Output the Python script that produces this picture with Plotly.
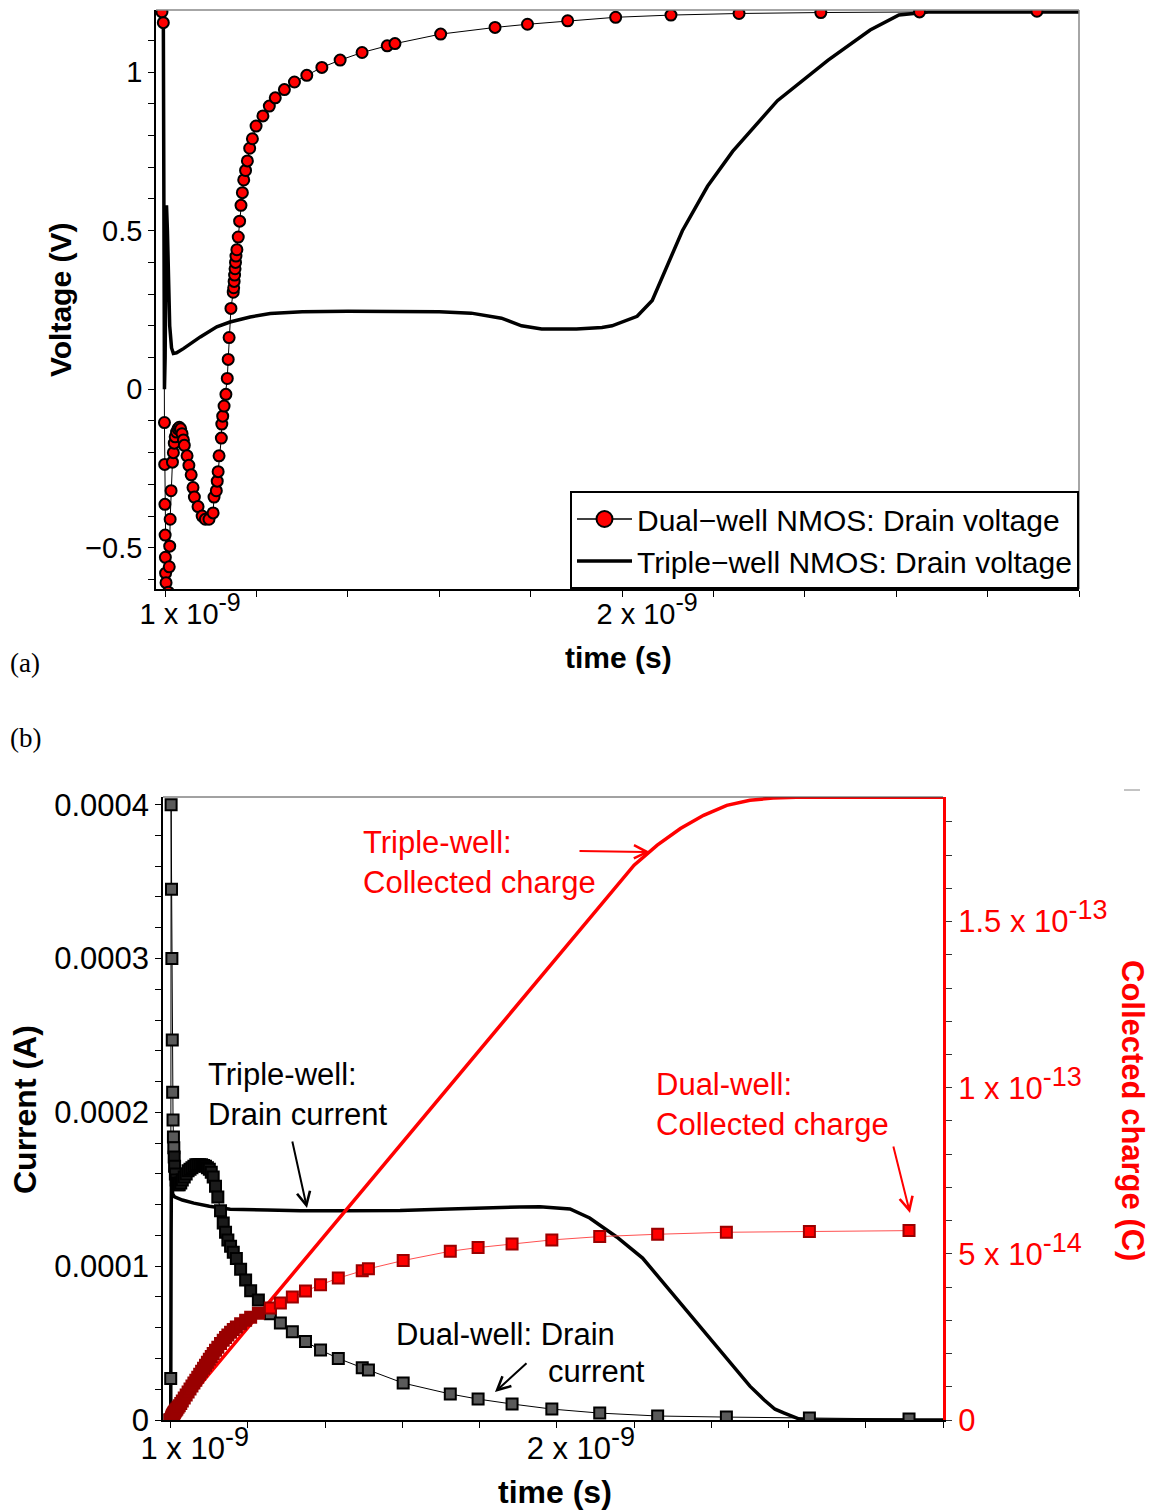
import numpy as np
import plotly.graph_objects as go

W, H = 1160, 1511
FONT = "Liberation Sans, Arial, sans-serif"
NS = 1e-9


def px(x, y):
    return x / W, 1 - y / H


# ---------------- Panel (a) data: drain voltage ----------------
t_dual_a = [0.993, 0.996, 0.9985, 0.999, 0.9995, 1.000, 1.0005, 1.001, 1.002, 1.003,
            1.005, 1.007, 1.009, 1.010, 1.011, 1.013, 1.016, 1.018, 1.020, 1.022,
            1.025, 1.028, 1.031, 1.034, 1.037, 1.040, 1.042, 1.048, 1.052, 1.057,
            1.061, 1.064, 1.072, 1.081, 1.088, 1.096, 1.105, 1.107, 1.112, 1.114,
            1.116, 1.118, 1.123, 1.124, 1.126, 1.129, 1.133, 1.136, 1.138, 1.140,
            1.144, 1.149, 1.150, 1.151, 1.152, 1.153, 1.154, 1.155, 1.157, 1.160,
            1.163, 1.166, 1.169, 1.172, 1.176, 1.180, 1.185, 1.191, 1.199, 1.214,
            1.228, 1.241, 1.261, 1.283, 1.310, 1.343, 1.383, 1.431, 1.486, 1.503,
            1.603, 1.722, 1.793, 1.881, 1.986, 2.107, 2.256, 2.435, 2.651, 2.908]
v_dual_a = [1.19, 1.156, -0.105, -0.237, -0.363, -0.46, -0.53, -0.58, -0.61, -0.66,
            -0.68, -0.64, -0.56, -0.495, -0.41, -0.32, -0.23, -0.2, -0.17, -0.15,
            -0.135, -0.125, -0.12, -0.125, -0.14, -0.16, -0.177, -0.21, -0.24, -0.27,
            -0.31, -0.34, -0.37, -0.40, -0.41, -0.41, -0.39, -0.34, -0.32, -0.29,
            -0.26, -0.21, -0.154, -0.11, -0.085, -0.053, -0.016, 0.034, 0.094, 0.163,
            0.255, 0.306, 0.32, 0.34, 0.36, 0.38, 0.40, 0.42, 0.44, 0.48,
            0.53, 0.58, 0.62, 0.66, 0.69, 0.72, 0.76, 0.79, 0.83, 0.862,
            0.893, 0.919, 0.945, 0.969, 0.99, 1.015, 1.038, 1.062, 1.083, 1.09,
            1.12, 1.141, 1.151, 1.162, 1.173, 1.18, 1.185, 1.188, 1.19, 1.192]

t_triple_a = [0.996, 0.9975, 0.9985, 1.000, 1.002, 1.003, 1.005, 1.007, 1.010, 1.014,
              1.018, 1.025, 1.040, 1.077, 1.113, 1.142, 1.186, 1.230, 1.30, 1.40,
              1.50, 1.60, 1.67, 1.736, 1.78, 1.824, 1.90, 1.956, 1.978, 2.033,
              2.066, 2.099, 2.132, 2.187, 2.242, 2.34, 2.451, 2.543, 2.606, 2.67, 3.0]
v_triple_a = [1.19, 0.6, 0.0, 0.1, 0.45, 0.58, 0.5, 0.35, 0.2, 0.13,
              0.113, 0.115, 0.128, 0.165, 0.197, 0.212, 0.228, 0.239, 0.244, 0.246,
              0.246, 0.244, 0.24, 0.224, 0.20, 0.19, 0.19, 0.195, 0.2, 0.23,
              0.28, 0.39, 0.5, 0.64, 0.75, 0.91, 1.038, 1.133, 1.18, 1.19, 1.19]

# ---------------- Panel (b) data: current and collected charge ----------------
t_dual_b = [0.998, 1.000, 1.001, 1.002, 1.003, 1.004, 1.005, 1.006, 1.007, 1.008,
            1.009, 1.010, 1.012, 1.014, 1.016, 1.019, 1.022, 1.026, 1.030, 1.035,
            1.040, 1.045, 1.050, 1.055, 1.060, 1.065, 1.070, 1.075, 1.080, 1.085,
            1.090, 1.095, 1.100, 1.105, 1.110, 1.116, 1.122, 1.129, 1.136, 1.142,
            1.148, 1.155, 1.162, 1.170, 1.181, 1.194, 1.207, 1.227, 1.258, 1.284,
            1.315, 1.349, 1.388, 1.434, 1.496, 1.512, 1.602, 1.724, 1.796, 1.884,
            1.987, 2.111, 2.261, 2.439, 2.654, 2.912]
i_dual_b = [0.0, 0.27, 4.0, 3.45, 3.0, 2.47, 2.13, 1.95, 1.84, 1.77,
            1.71, 1.65, 1.60, 1.56, 1.54, 1.53, 1.53, 1.54, 1.56, 1.58,
            1.60, 1.62, 1.63, 1.64, 1.65, 1.66, 1.66, 1.66, 1.66, 1.655,
            1.65, 1.64, 1.63, 1.61, 1.58, 1.52, 1.45, 1.36, 1.28, 1.22,
            1.17, 1.13, 1.09, 1.05, 0.98, 0.91, 0.84, 0.78, 0.69, 0.63,
            0.574, 0.51, 0.455, 0.40, 0.34, 0.325, 0.24, 0.169, 0.136, 0.104,
            0.071, 0.045, 0.026, 0.019, 0.013, 0.006]          # x 1e-4 A
q_dual_b = [0.00, 0.00, 0.02, 0.06, 0.09, 0.12, 0.14, 0.16, 0.18, 0.20,
            0.22, 0.24, 0.27, 0.30, 0.33, 0.38, 0.43, 0.50, 0.57, 0.66,
            0.75, 0.84, 0.93, 1.02, 1.11, 1.20, 1.29, 1.38, 1.47, 1.56,
            1.65, 1.74, 1.83, 1.91, 2.00, 2.10, 2.19, 2.30, 2.40, 2.48,
            2.56, 2.64, 2.72, 2.80, 2.90, 3.00, 3.09, 3.21, 3.37, 3.52,
            3.70, 3.88, 4.07, 4.27, 4.49, 4.55, 4.80, 5.08, 5.19, 5.30,
            5.42, 5.52, 5.59, 5.65, 5.67, 5.70]                  # x 1e-14 C

t_triple_i = [0.998, 1.000, 1.001, 1.002, 1.003, 1.005, 1.010, 1.030, 1.060, 1.100,
              1.154, 1.25, 1.336, 1.45, 1.594, 1.70, 1.80, 1.904, 1.956, 2.034,
              2.085, 2.155, 2.222, 2.30, 2.344, 2.40, 2.447, 2.50, 2.537, 2.565,
              2.589, 2.628, 2.65, 3.0]
i_triple_b = [0.0, 0.0, 1.2, 1.68, 1.55, 1.47, 1.45, 1.43, 1.41, 1.39,
              1.37, 1.365, 1.36, 1.36, 1.362, 1.37, 1.38, 1.385, 1.387, 1.372,
              1.313, 1.19, 1.053, 0.82, 0.69, 0.52, 0.377, 0.22, 0.13, 0.07,
              0.045, 0.006, 0.0, 0.0]                           # x 1e-4 A

t_triple_q = [0.998, 1.000, 1.25, 1.5, 1.75, 2.0, 2.2, 2.26, 2.32, 2.38,
              2.44, 2.50, 2.56, 2.62, 3.0]
q_triple_b = [0.0, 0.0, 3.48, 6.95, 10.43, 13.9, 16.7, 17.3, 17.8, 18.2,
              18.5, 18.65, 18.72, 18.74, 18.74]                 # x 1e-14 C


# ---------------- Tick definitions ----------------
def sci(mant, exp, sup_px):
    return f"{mant} x 10<sup><span style='font-size:{sup_px}px'>{exp}</span></sup>"


x_label_ns = [1.0, 2.0]
x_label_parts = [("1", "-9"), ("2", "-9")]
x_minor_step_ns = 0.2

v_label_vals = [-0.5, 0.0, 0.5, 1.0]
v_label_text = ["\u22120.5", "0", "0.5", "1"]
v_minor_step = 0.1

i_label_vals = [0.0, 1e-4, 2e-4, 3e-4, 4e-4]
i_label_text = ["0", "0.0001", "0.0002", "0.0003", "0.0004"]
i_minor_step = 2e-5

q_label_vals = [0.0, 5e-14, 1e-13, 1.5e-13]
q_label_parts = [None, ("5", "-14"), ("1", "-13"), ("1.5", "-13")]
q_minor_step = 1e-14

# marker fills: densely packed early samples read as solid dark bands
cur_fill = ["#1a1a1a" if 1.009 <= t <= 1.23 else "#5a5a5a" for t in t_dual_b]
chg_fill = ["#9a0000" if t < 1.24 else "red" for t in t_dual_b]

# ---------------- Figure ----------------
fig = go.Figure()

fig.add_trace(go.Scatter(
    x=np.array(t_triple_a) * NS, y=v_triple_a, mode="lines",
    line=dict(color="black", width=3.5),
    name="Triple\u2212well NMOS: Drain voltage", legendrank=2,
    xaxis="x", yaxis="y"))
fig.add_trace(go.Scatter(
    x=np.array(t_dual_a) * NS, y=v_dual_a, mode="lines+markers",
    line=dict(color="black", width=1),
    marker=dict(symbol="circle", size=11, color="red", line=dict(color="black", width=2)),
    name="Dual\u2212well NMOS: Drain voltage", showlegend=False,
    xaxis="x", yaxis="y"))
# legend entry for the dual-well series (larger symbol, as in the reference legend)
fig.add_trace(go.Scatter(
    x=[None], y=[None], mode="lines+markers",
    line=dict(color="black", width=1.5),
    marker=dict(symbol="circle", size=16, color="red", line=dict(color="black", width=2)),
    name="Dual\u2212well NMOS: Drain voltage", legendrank=1,
    xaxis="x", yaxis="y"))

fig.add_trace(go.Scatter(
    x=np.array(t_triple_i) * NS, y=np.array(i_triple_b) * 1e-4, mode="lines",
    line=dict(color="black", width=3.5), showlegend=False,
    xaxis="x2", yaxis="y2"))
fig.add_trace(go.Scatter(
    x=np.array(t_dual_b) * NS, y=np.array(i_dual_b) * 1e-4, mode="lines+markers",
    line=dict(color="black", width=1),
    marker=dict(symbol="square", size=11, color=cur_fill, line=dict(color="black", width=2)),
    showlegend=False, xaxis="x2", yaxis="y2"))
fig.add_trace(go.Scatter(
    x=np.array(t_triple_q) * NS, y=np.array(q_triple_b) * 1e-14, mode="lines",
    line=dict(color="red", width=3.5), showlegend=False,
    xaxis="x2", yaxis="y3"))
fig.add_trace(go.Scatter(
    x=np.array(t_dual_b) * NS, y=np.array(q_dual_b) * 1e-14, mode="lines+markers",
    line=dict(color="#ff5050", width=1),
    marker=dict(symbol="square", size=11, color=chg_fill, line=dict(color="#990000", width=2)),
    showlegend=False, xaxis="x2", yaxis="y3"))


def minor(tick0, step, color="black"):
    return dict(tick0=tick0, dtick=step, ticks="outside", ticklen=6,
                tickwidth=1, tickcolor=color, showgrid=False)


common_x = dict(
    tickmode="array", tickvals=[v * NS for v in x_label_ns],
    minor=minor(x_label_ns[0] * NS, x_minor_step_ns * NS),
    range=[0.98e-9, 3.0e-9], ticks="outside", ticklen=6, tickwidth=1,
    tickcolor="black", showline=True, linecolor="black", linewidth=1.5,
    showgrid=False, zeroline=False, automargin=False)

fig.update_layout(
    width=W, height=H,
    margin=dict(l=0, r=0, t=0, b=0, autoexpand=False),
    paper_bgcolor="white", plot_bgcolor="white",
    font=dict(family=FONT, color="black"),
    xaxis=dict(common_x, domain=[156 / W, 1079 / W], anchor="y",
               ticktext=[sci(m, e, 25) for m, e in x_label_parts],
               tickfont=dict(size=29), ticklabelshift=25, ticklabelstandoff=-8),
    yaxis=dict(domain=[1 - 589 / H, 1 - 10 / H], anchor="x",
               range=[-0.63, 1.196], tickmode="array",
               tickvals=v_label_vals, ticktext=v_label_text,
               minor=minor(0.0, v_minor_step),
               ticks="outside", ticklen=6, tickwidth=1, tickcolor="black",
               showline=True, linecolor="black", linewidth=1.5,
               showgrid=False, zeroline=False, tickfont=dict(size=29),
               automargin=False),
    xaxis2=dict(common_x, domain=[163 / W, 943 / W], anchor="y2",
                ticktext=[sci(m, e, 27) for m, e in x_label_parts],
                tickfont=dict(size=31), ticklabelshift=24, ticklabelstandoff=-6),
    yaxis2=dict(domain=[1 - 1420 / H, 1 - 797 / H], anchor="x2",
                range=[0, 4.05e-4], tickmode="array",
                tickvals=i_label_vals, ticktext=i_label_text,
                minor=minor(0.0, i_minor_step),
                ticks="outside", ticklen=6, tickwidth=1, tickcolor="black",
                showline=True, linecolor="black", linewidth=1.5,
                showgrid=False, zeroline=False, tickfont=dict(size=31),
                automargin=False),
    yaxis3=dict(overlaying="y2", side="right", anchor="x2",
                range=[0, 1.875e-13], tickmode="array",
                tickvals=q_label_vals,
                ticktext=["0" if p is None else sci(p[0], p[1], 27) for p in q_label_parts],
                minor=minor(0.0, q_minor_step, "#333333"),
                ticks="outside", ticklen=6, tickwidth=1, tickcolor="#333333",
                showline=True, linecolor="red", linewidth=3,
                showgrid=False, zeroline=False,
                tickfont=dict(size=31, color="red"), automargin=False),
    legend=dict(x=1079 / W, xanchor="right", y=1 - 589 / H, yanchor="bottom",
                font=dict(size=30, family=FONT), bgcolor="white",
                bordercolor="black", borderwidth=2, tracegroupgap=0,
                itemwidth=55),
)

# box borders (top / right of panel a, top of panel b)
x0, y0 = px(156, 10)
x1, y1 = px(1079, 589)
fig.add_shape(type="line", xref="paper", yref="paper", x0=x0, y0=y0, x1=x1, y1=y0,
              line=dict(color="#888888", width=1.5))
fig.add_shape(type="line", xref="paper", yref="paper", x0=x1, y0=y0, x1=x1, y1=y1,
              line=dict(color="#888888", width=1.5))
bx0, by0 = px(163, 797)
bx1, _ = px(943, 797)
fig.add_shape(type="line", xref="paper", yref="paper", x0=bx0, y0=by0, x1=bx1, y1=by0,
              line=dict(color="#444444", width=1))
sx0, sy0 = px(1124, 790)
sx1, _ = px(1140, 790)
fig.add_shape(type="line", xref="paper", yref="paper", x0=sx0, y0=sy0, x1=sx1, y1=sy0,
              line=dict(color="#888888", width=1))


def text_ann(x, y, text, size=31, color="black", bold=False, angle=0,
             xanchor="center", yanchor="middle", family=FONT, align="left"):
    ax_, ay_ = px(x, y)
    if bold:
        text = "<b>" + text + "</b>"
    fig.add_annotation(x=ax_, y=ay_, xref="paper", yref="paper", text=text,
                       showarrow=False, textangle=angle, xanchor=xanchor,
                       yanchor=yanchor, align=align,
                       font=dict(size=size, color=color, family=family))


def arrow_ann(tail, head, color):
    hx, hy = px(*head)
    fig.add_annotation(x=hx, y=hy, xref="paper", yref="paper", text="",
                       showarrow=True, ax=tail[0] - head[0], ay=tail[1] - head[1],
                       arrowhead=5, arrowsize=1.3, arrowwidth=2, arrowcolor=color)


# panel labels
text_ann(8, 663, "(a)", size=27, xanchor="left", family="Liberation Serif, Times New Roman, serif")
text_ann(8, 738, "(b)", size=27, xanchor="left", family="Liberation Serif, Times New Roman, serif")

# axis titles
text_ann(60, 300, "Voltage (V)", size=30, bold=True, angle=-90)
text_ann(618, 657, "time (s)", size=30, bold=True)
text_ann(25, 1110, "Current (A)", size=32, bold=True, angle=-90)
text_ann(555, 1492, "time (s)", size=32, bold=True)
text_ann(1133, 1110, "Collected charge (C)", size=31, bold=True, angle=90, color="red")

# callouts in panel (b)
text_ann(361, 862, "Triple-well:<br>Collected charge", color="red", xanchor="left")
arrow_ann((578, 851), (650, 852), "red")
text_ann(206, 1094, "Triple-well:<br>Drain current", xanchor="left")
arrow_ann((292, 1140), (307, 1208), "black")
text_ann(654, 1104, "Dual-well:<br>Collected charge", color="red", xanchor="left")
arrow_ann((893, 1145), (910, 1213), "red")
text_ann(394, 1334, "Dual-well: Drain", xanchor="left")
text_ann(546, 1371, "current", xanchor="left")
arrow_ann((528, 1362), (495, 1392), "black")

fig.write_html("out.html")
